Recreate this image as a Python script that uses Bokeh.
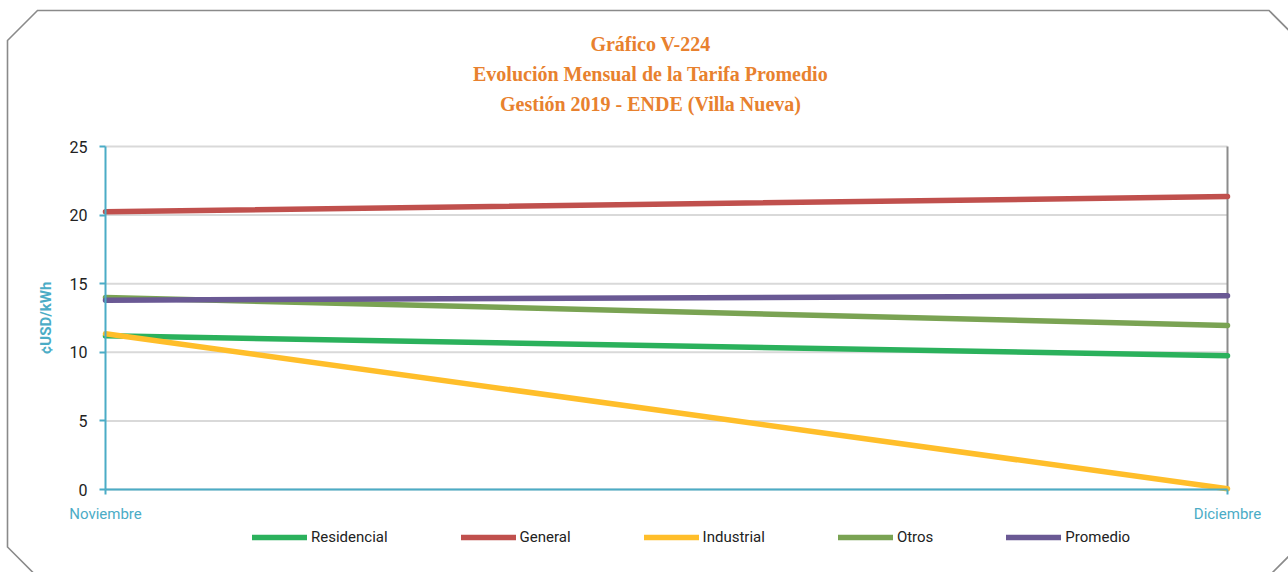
import math
from urllib.parse import quote
from bokeh.plotting import figure
from bokeh.models import (Range1d, FixedTicker, Legend, LegendItem, Title, Label)
from bokeh.embed import file_html
from bokeh.resources import INLINE

# ---- data ----
months = ["Noviembre", "Diciembre"]
residencial = [11.2, 9.75]
general = [20.25, 21.35]
industrial = [11.35, 0.05]
otros = [14.0, 11.95]
promedio = [13.8, 14.12]
y_ticks = [0, 5, 10, 15, 20, 25]

series_names = ["Residencial", "General", "Industrial", "Otros", "Promedio"]
series_vals = [residencial, general, industrial, otros, promedio]
series_cols = ["#2BB15C", "#C0504D", "#FFBE2A", "#7AA353", "#6A5994"]

x = list(range(len(months)))

TEAL = "#4BACC6"
SANS = "Roboto"
ORANGE = "#E8812E"

# ---- layout (pixels) ----
W, H = 1288, 572
AX_LEFT, AX_RIGHT = 105, 1227   # pixel columns of first/last month
TOP_PX, ZERO_PX = 146, 489      # pixel rows of top tick and of y = 0
FRAME_LEFT, FRAME_RIGHT, FRAME_TOP, FRAME_BOTTOM = 20, 1280, 134, 560
px_per_y = (ZERO_PX - TOP_PX) / (y_ticks[-1] - y_ticks[0])
y_min = y_ticks[0] - (FRAME_BOTTOM - ZERO_PX) / px_per_y
y_max = y_ticks[-1] + (TOP_PX - FRAME_TOP) / px_per_y
px_per_x = (AX_RIGHT - AX_LEFT) / (len(months) - 1)
x_min = x[0] - (AX_LEFT - FRAME_LEFT) / px_per_x
x_max = x[-1] + (FRAME_RIGHT - AX_RIGHT) / px_per_x

# decorative octagon frame drawn as the figure's CSS background
frame_svg = ("<svg xmlns='http://www.w3.org/2000/svg' width='1288' height='572'>"
             "<polygon points='7.5,40.5 37.5,10.5 1269,10.5 1300,41.5 1300,545 "
             "1268,577 37.5,577 7.5,547' fill='white' stroke='#8A8A8A' "
             "stroke-width='1.6'/></svg>")
bg = 'url("data:image/svg+xml,' + quote(frame_svg) + '")'

p = figure(width=W, height=H, output_backend="svg", toolbar_location=None,
           x_range=Range1d(x_min, x_max), y_range=Range1d(y_min, y_max),
           min_border_left=FRAME_LEFT, min_border_right=W - FRAME_RIGHT,
           min_border_top=FRAME_TOP, min_border_bottom=H - FRAME_BOTTOM,
           title=None,
           styles={"background-image": bg, "background-repeat": "no-repeat"})
p.outline_line_color = None
p.background_fill_color = None
p.border_fill_color = None

# titles (added nearest-first); first one is a spacer
p.add_layout(Title(text=" ", text_font_size="12px", standoff=1), "above")
title_lines = ["Gestión 2019 - ENDE (Villa Nueva)",
               "Evolución Mensual de la Tarifa Promedio",
               "Gráfico V-224"]
for t in title_lines:
    p.add_layout(Title(text=t, align="center",
                       text_font="Liberation Serif", text_font_style="bold",
                       text_font_size="20px", text_color=ORANGE,
                       standoff=6), "above")

# horizontal grid lines, limited to the months' span
p.xgrid.visible = False
p.ygrid.visible = False
p.segment(x0=[x[0]] * len(y_ticks), y0=y_ticks, x1=[x[-1]] * len(y_ticks),
          y1=y_ticks, line_color="#D9D9D9", line_width=2)
# right-hand border of the plot area
p.segment(x0=[x[-1]], y0=[y_ticks[0]], x1=[x[-1]], y1=[y_ticks[-1]],
          line_color="#8C8C8C", line_width=2)

# axes
yax = p.yaxis[0]
yax.fixed_location = x[0]
yax.ticker = FixedTicker(ticks=y_ticks)
yax.bounds = (y_ticks[0], y_ticks[-1])
yax.axis_line_color = TEAL
yax.axis_line_width = 2
yax.major_tick_line_color = TEAL
yax.major_tick_line_width = 2
yax.major_tick_out = 6
yax.major_tick_in = 0
yax.minor_tick_line_color = None
yax.major_label_text_font = SANS
yax.major_label_text_font_size = "16px"
yax.major_label_text_color = "#222222"
yax.major_label_standoff = 12

p.add_layout(Label(x=x[0], y=(y_ticks[0] + y_ticks[-1]) / 2, x_offset=-60,
                   text="¢USD/kWh", angle=math.pi / 2, text_align="center",
                   text_baseline="middle", text_font=SANS,
                   text_font_style="bold", text_font_size="15px",
                   text_color=TEAL))

xax = p.xaxis[0]
xax.fixed_location = y_ticks[0]
xax.ticker = FixedTicker(ticks=x)
xax.bounds = (x[0], x[-1])
xax.major_label_overrides = {i: m for i, m in zip(x, months)}
xax.axis_line_color = TEAL
xax.axis_line_width = 2
xax.major_tick_line_color = TEAL
xax.major_tick_line_width = 2
xax.major_tick_out = 5
xax.major_tick_in = 0
xax.minor_tick_line_color = None
xax.major_label_text_font = SANS
xax.major_label_text_font_size = "15px"
xax.major_label_text_color = TEAL
xax.major_label_standoff = 10

items = []
for name, vals, col in zip(series_names, series_vals, series_cols):
    r = p.line(x, vals, line_color=col, line_width=5.5, line_cap="round")
    items.append(LegendItem(label=name, renderers=[r]))

legend = Legend(items=items, orientation="horizontal",
                location=(252 - FRAME_LEFT, 13),
                glyph_width=55, glyph_height=20, label_height=20,
                label_standoff=4, spacing=73,
                padding=0, margin=0, border_line_color=None,
                background_fill_alpha=0, label_text_font=SANS,
                label_text_font_size="15px", label_text_color="#222222")
p.add_layout(legend, "center")

open("out.html", "w").write(file_html(p, INLINE))
